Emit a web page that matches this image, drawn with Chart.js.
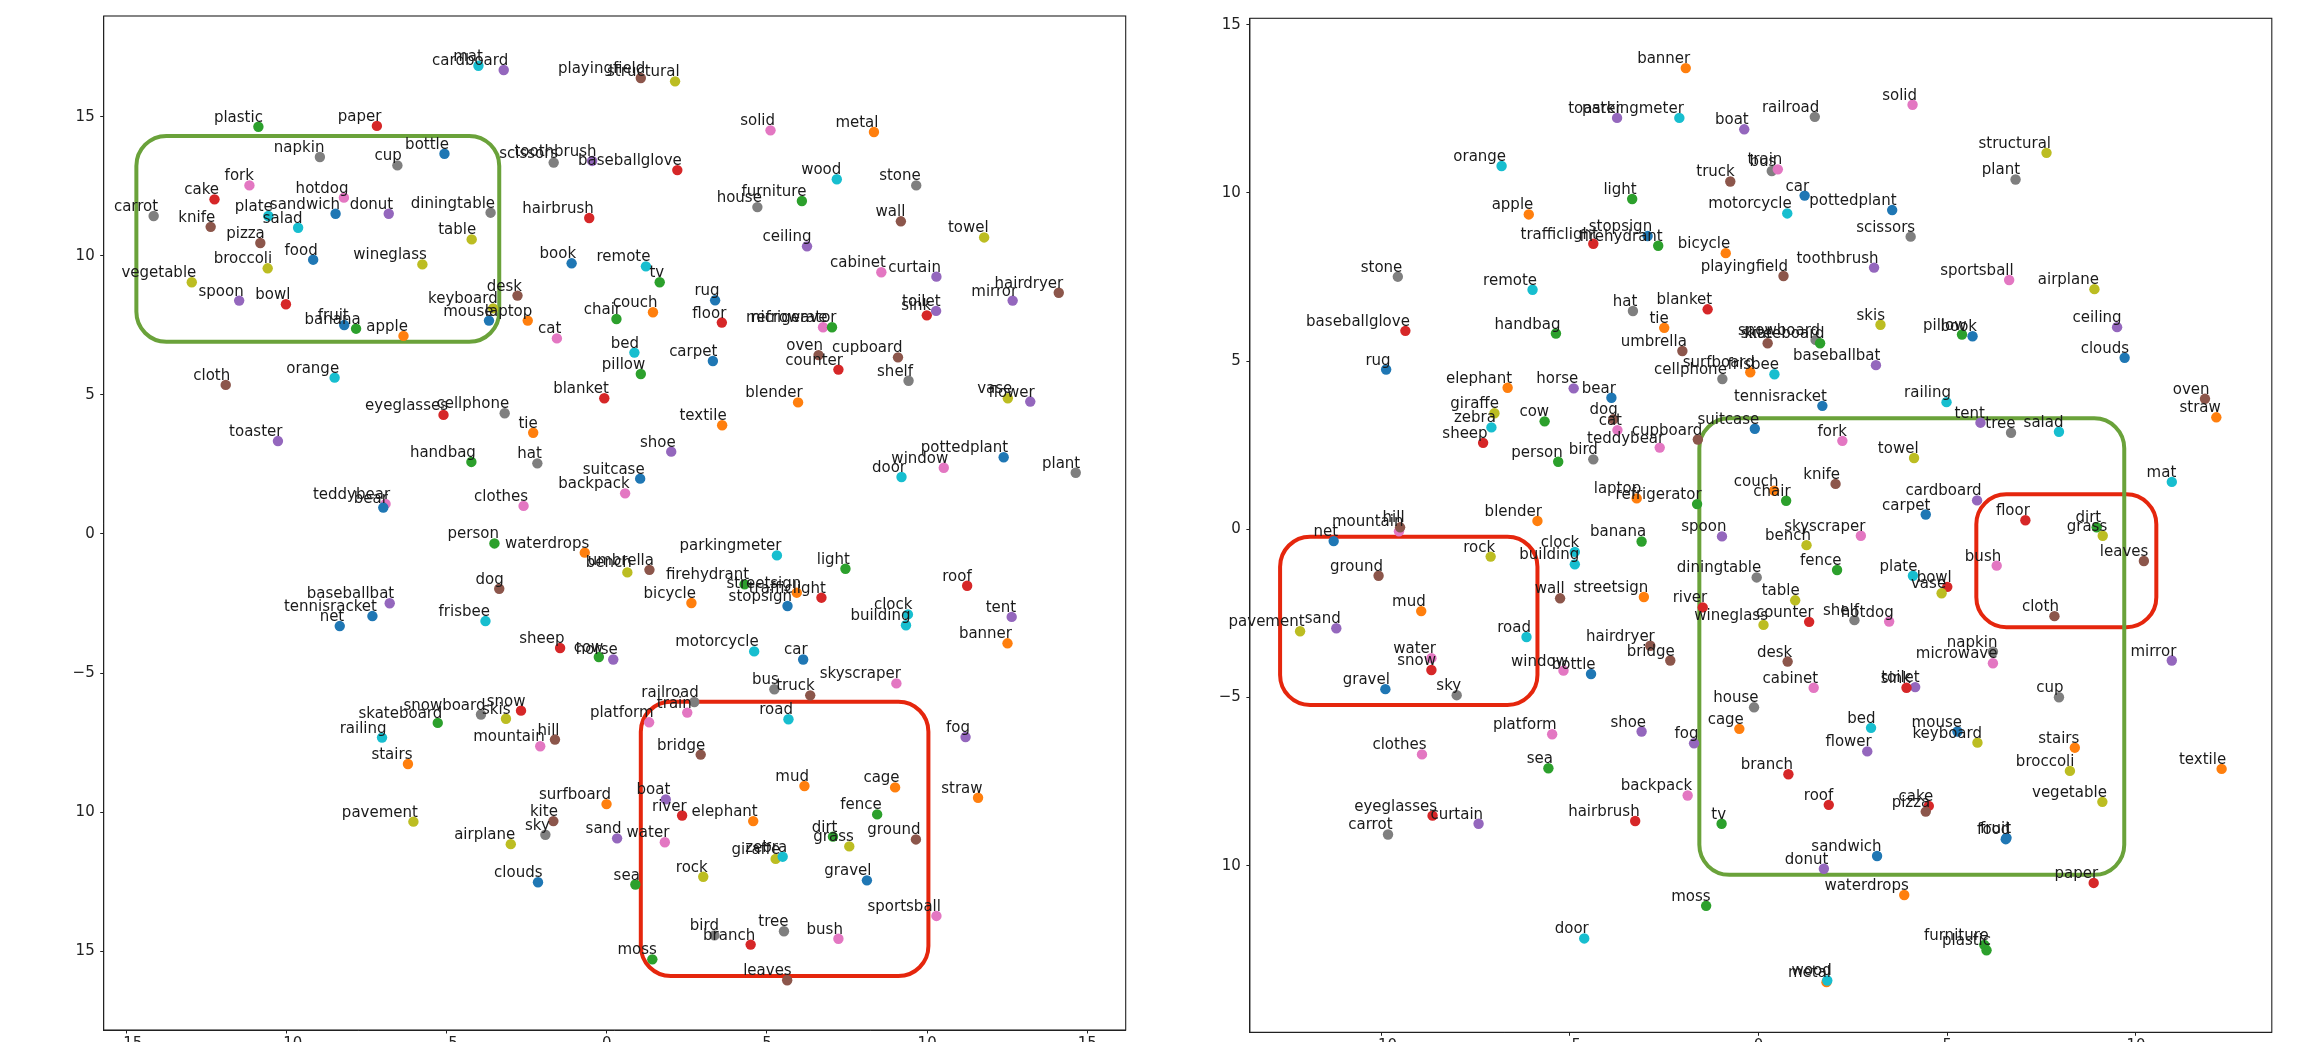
<!DOCTYPE html>
<html>
<head>
<meta charset="utf-8">
<script src="https://cdn.jsdelivr.net/npm/chart.js@4"></script>
<style>
    html, body { margin: 0; padding: 0; background: #fff; overflow: hidden; width: 2312px; height: 1042px; }
    canvas { position: absolute; top: 0; }
    #leftChart { left: 0; }
    #rightChart { left: 1150px; }
</style>
</head>
<body>
<canvas id="leftChart" width="1150" height="1080"></canvas>
<canvas id="rightChart" width="1162" height="1080"></canvas>
<script>
// words shared by both embeddings, same order in every array below
const words = [
    'mat', 'cardboard', 'playingfield', 'structural', 'plastic', 'paper', 'napkin', 'cup', 'bottle', 'scissors',
    'toothbrush', 'baseballglove', 'solid', 'metal', 'wood', 'stone', 'furniture', 'house', 'wall', 'towel',
    'ceiling', 'fork', 'cake', 'hotdog', 'carrot', 'knife', 'plate', 'sandwich', 'salad', 'donut',
    'diningtable', 'hairbrush', 'pizza', 'table', 'food', 'broccoli', 'wineglass', 'book', 'remote', 'tv',
    'cabinet', 'curtain', 'hairdryer', 'mirror', 'vegetable', 'spoon', 'bowl', 'desk', 'keyboard', 'mouse',
    'laptop', 'cat', 'fruit', 'banana', 'apple', 'rug', 'chair', 'couch', 'floor', 'microwave',
    'refrigerator', 'toilet', 'sink', 'bed', 'carpet', 'oven', 'cupboard', 'counter', 'pillow', 'blanket',
    'shelf', 'blender', 'vase', 'flower', 'textile', 'shoe', 'suitcase', 'backpack', 'pottedplant', 'window',
    'door', 'plant', 'cloth', 'orange', 'eyeglasses', 'cellphone', 'tie', 'toaster', 'handbag', 'hat',
    'teddybear', 'bear', 'clothes', 'person', 'waterdrops', 'umbrella', 'bench', 'dog', 'baseballbat', 'tennisracket',
    'net', 'frisbee', 'parkingmeter', 'light', 'firehydrant', 'streetsign', 'trafficlight', 'stopsign', 'bicycle', 'roof',
    'clock', 'building', 'tent', 'banner', 'motorcycle', 'car', 'cow', 'horse', 'sheep', 'skyscraper',
    'bus', 'truck', 'snow', 'snowboard', 'skis', 'skateboard', 'railing', 'mountain', 'hill', 'stairs',
    'pavement', 'kite', 'sky', 'airplane', 'clouds', 'railroad', 'train', 'platform', 'road', 'fog',
    'bridge', 'mud', 'cage', 'straw', 'surfboard', 'boat', 'river', 'elephant', 'fence', 'sand',
    'water', 'dirt', 'grass', 'ground', 'giraffe', 'zebra', 'rock', 'sea', 'gravel', 'sportsball',
    'tree', 'bush', 'bird', 'branch', 'moss', 'leaves'
];

const leftX = [
    -4.01, -3.22, 1.06, 2.13, -10.88, -7.18, -8.96, -6.54, -5.07, -1.66,
    -0.46, 2.20, 5.11, 8.34, 7.18, 9.66, 6.09, 4.70, 9.18, 11.78,
    6.25, -11.16, -12.25, -8.21, -14.15, -12.37, -10.57, -8.47, -9.64, -6.81,
    -3.63, -0.55, -10.82, -4.22, -9.17, -10.59, -5.76, -1.10, 1.22, 1.65,
    8.57, 10.29, 14.11, 12.67, -12.96, -11.48, -10.02, -2.79, -3.55, -3.68,
    -2.47, -1.56, -8.20, -7.83, -6.35, 3.38, 0.30, 1.44, 3.59, 6.75,
    7.03, 10.28, 9.99, 0.86, 3.31, 6.61, 9.09, 7.23, 1.06, -0.08,
    9.42, 5.97, 12.52, 13.22, 3.60, 2.01, 1.04, 0.57, 12.39, 10.52,
    9.20, 14.64, -11.90, -8.50, -5.10, -3.19, -2.30, -10.27, -4.23, -2.17,
    -6.91, -6.98, -2.60, -3.51, -0.69, 1.33, 0.64, -3.36, -6.78, -7.32,
    -8.34, -3.79, 5.31, 7.45, 4.30, 5.93, 6.70, 5.64, 2.64, 11.25,
    9.40, 9.34, 12.64, 12.51, 4.60, 6.13, -0.25, 0.20, -1.46, 9.04,
    5.23, 6.35, -2.68, -3.93, -3.15, -5.28, -7.02, -2.08, -1.62, -6.21,
    -6.04, -1.67, -1.92, -3.00, -2.15, 2.73, 2.51, 1.32, 5.67, 11.20,
    2.93, 6.17, 9.00, 11.59, -0.01, 1.84, 2.35, 4.57, 8.44, 0.32,
    1.81, 7.06, 7.57, 9.65, 5.27, 5.49, 3.01, 0.89, 8.12, 10.29,
    5.53, 7.23, 3.36, 4.49, 1.42, 5.63
];
const leftY = [
    16.83, 16.68, 16.39, 16.27, 14.64, 14.67, 13.55, 13.25, 13.67, 13.35,
    13.41, 13.08, 14.51, 14.45, 12.75, 12.53, 11.97, 11.75, 11.24, 10.66,
    10.34, 12.53, 12.03, 12.09, 11.43, 11.04, 11.43, 11.51, 11.01, 11.51,
    11.55, 11.36, 10.46, 10.59, 9.86, 9.55, 9.69, 9.73, 9.62, 9.05,
    9.41, 9.25, 8.67, 8.39, 9.05, 8.39, 8.26, 8.57, 8.11, 7.67,
    7.67, 7.03, 7.51, 7.38, 7.12, 8.40, 7.73, 7.97, 7.60, 7.43,
    7.43, 8.02, 7.86, 6.52, 6.22, 6.43, 6.35, 5.91, 5.75, 4.88,
    5.51, 4.73, 4.88, 4.76, 3.91, 2.96, 1.99, 1.46, 2.76, 2.38,
    2.05, 2.20, 5.36, 5.62, 4.28, 4.34, 3.64, 3.34, 2.59, 2.54,
    1.08, 0.95, 1.01, -0.34, -0.67, -1.29, -1.38, -1.97, -2.49, -2.95,
    -3.31, -3.13, -0.77, -1.25, -1.81, -2.11, -2.29, -2.59, -2.48, -1.86,
    -2.89, -3.28, -2.98, -3.93, -4.22, -4.51, -4.42, -4.51, -4.10, -5.37,
    -5.58, -5.80, -6.35, -6.49, -6.64, -6.79, -7.32, -7.63, -7.39, -8.27,
    -10.34, -10.32, -10.81, -11.15, -12.52, -6.04, -6.42, -6.77, -6.66, -7.30,
    -7.93, -9.06, -9.11, -9.48, -9.71, -9.54, -10.12, -10.32, -10.08, -10.94,
    -11.08, -10.88, -11.23, -10.98, -11.68, -11.60, -12.32, -12.60, -12.45, -13.73,
    -14.28, -14.55, -14.43, -14.76, -15.29, -16.04
];

const rightX = [
    10.95, 5.79, 0.66, 7.63, 6.04, 8.88, 6.21, 7.96, -4.44, 4.03,
    3.06, -9.36, 4.08, 1.80, 1.82, -9.56, 5.98, -0.12, -5.26, 4.12,
    9.50, 2.22, 4.51, 3.46, -9.82, 2.04, 4.09, 3.14, 7.96, 1.73,
    -0.05, -3.27, 4.43, 0.97, 6.55, 8.25, 0.13, 5.67, -5.99, -0.98,
    1.46, -7.42, -2.87, 10.95, 9.11, -0.97, 5.00, 0.77, 5.80, 5.27,
    -3.23, -3.74, 6.57, -3.10, -6.09, -9.87, 0.73, 0.41, 7.07, 6.21,
    -1.63, 4.15, 3.92, 2.98, 4.43, 11.83, -1.61, 1.34, 5.39, -1.35,
    2.54, -5.86, 4.85, 2.88, 12.27, -3.10, -0.10, -1.88, 3.54, -5.17,
    -4.62, 6.81, 7.84, -6.81, -8.64, -0.96, -2.50, -3.75, -5.37, -3.33,
    -2.62, -3.90, -8.92, -5.31, 3.86, -2.02, 1.27, -3.85, 3.11, 1.69,
    -11.26, 0.42, -2.10, -3.35, -2.66, -3.04, -4.38, -2.94, -0.87, 1.86,
    -4.87, -4.87, 5.88, -1.93, 0.76, 1.22, -5.67, -4.90, -7.30, 2.71,
    0.35, -0.75, -8.67, 1.51, 3.23, 1.63, 4.98, -9.53, -9.50, 8.38,
    -12.15, 0.24, -8.00, 8.90, 9.70, 1.49, 0.51, -5.47, -6.15, -1.71,
    -2.34, -8.94, -0.51, 12.13, -0.22, -0.38, -1.48, -6.65, 2.08, -11.19,
    -8.67, 8.96, 9.12, -10.07, -7.00, -7.08, -7.10, -5.57, -9.89, 6.64,
    6.69, 6.31, -4.38, 0.79, -1.39, 10.21
];
const rightY = [
    1.41, 0.86, 7.53, 11.19, -12.51, -10.51, -3.64, -4.99, -4.30, 8.70,
    7.78, 5.90, 12.62, -13.46, -13.41, 7.51, -12.35, -5.29, -2.05, 2.12,
    6.01, 2.63, -8.22, -2.74, -9.07, 1.35, -1.38, -9.71, 2.90, -10.09,
    -1.43, -8.67, -8.39, -2.11, -9.21, -7.18, -2.84, 5.74, 7.12, -8.75,
    -4.71, -8.75, -3.46, -3.90, -8.10, -0.21, -1.71, -3.93, -6.34, -6.01,
    0.92, 2.95, -9.17, -0.36, 9.36, 4.75, 0.85, 1.15, 0.27, -3.98,
    0.75, -4.69, -4.71, -5.90, 0.44, 3.88, 2.67, -2.75, 5.79, 6.54,
    -2.70, 0.25, -1.90, -6.60, -7.12, -6.01, 2.99, -7.91, 9.49, -4.20,
    -12.16, 10.40, -2.58, 10.80, -8.51, 4.47, 5.99, 12.23, 5.82, 6.49,
    2.43, 3.91, -6.69, 2.01, -10.87, 5.30, -0.47, 3.27, 4.88, 3.67,
    -0.35, 4.61, 12.23, 9.82, 8.43, -2.01, 8.49, 8.72, 8.21, -8.19,
    -0.67, -1.04, 3.17, 13.71, 9.39, 9.92, 3.21, 4.19, 2.57, -0.19,
    10.65, 10.34, -4.18, 5.63, 6.08, 5.53, 3.78, -0.06, 0.06, -6.49,
    -3.03, 5.53, -4.93, 7.14, 5.10, 12.26, 10.70, -6.09, -3.20, -6.36,
    -3.90, -2.43, -5.93, 3.33, 4.67, 11.89, -2.32, 4.21, -1.21, -2.94,
    -3.83, 0.06, -0.19, -1.38, 3.45, 3.03, -0.81, -7.10, -4.75, 7.41,
    2.87, -1.08, 2.08, -7.28, -11.19, -0.94
];

// tick values and the tick text as it shows in the picture
const leftXTicks = [-15, -10, -5, 0, 5, 10, 15];
const leftXTickText = ['−15', '−10', '−5', '0', '5', '10', '15'];
const leftYTicks = [-15, -10, -5, 0, 5, 10, 15];
const leftYTickText = ['15', '10', '−5', '0', '5', '10', '15'];
const rightXTicks = [-10, -5, 0, 5, 10];
const rightXTickText = ['−10', '−5', '0', '5', '10'];
const rightYTicks = [-10, -5, 0, 5, 10, 15];
const rightYTickText = ['10', '−5', '0', '5', '10', '15'];

// highlighted regions, in data units
const leftGreenBox = { x0: -14.69, x1: -3.36, y0: 6.91, y1: 14.31 };
const leftRedBox = { x0: 1.06, x1: 10.04, y0: -15.89, y1: -6.03 };
const rightRedBoxA = { x0: -12.68, x1: -5.86, y0: -5.22, y1: -0.22 };
const rightRedBoxB = { x0: 5.77, x1: 10.54, y0: -2.91, y1: 1.04 };
const rightGreenBox = { x0: -1.57, x1: 9.69, y0: -10.27, y1: 3.30 };

// tab10 colour index per word
const colorIndex = [
    9, 4, 5, 8, 2, 3, 7, 7, 0, 7,
    4, 3, 6, 1, 9, 7, 2, 7, 5, 8,
    4, 6, 3, 6, 7, 5, 9, 0, 9, 4,
    7, 3, 5, 8, 0, 8, 8, 0, 9, 2,
    6, 4, 5, 4, 8, 4, 3, 5, 8, 0,
    1, 6, 0, 2, 1, 0, 2, 1, 3, 6,
    2, 4, 3, 9, 0, 5, 5, 3, 2, 3,
    7, 1, 8, 4, 1, 4, 0, 6, 0, 6,
    9, 7, 5, 9, 3, 7, 1, 4, 2, 7,
    6, 0, 6, 2, 1, 5, 8, 5, 4, 0,
    0, 9, 9, 2, 2, 1, 3, 0, 1, 3,
    9, 9, 4, 1, 9, 0, 2, 4, 3, 6,
    7, 5, 3, 7, 8, 2, 9, 6, 5, 1,
    8, 5, 7, 8, 0, 7, 6, 6, 9, 4,
    5, 1, 1, 1, 1, 4, 3, 1, 2, 4,
    6, 2, 8, 5, 8, 9, 8, 2, 0, 6,
    7, 6, 7, 3, 2, 5
];

const tab10 = ['#1f77b4', '#ff7f0e', '#2ca02c', '#d62728', '#9467bd',
               '#8c564b', '#e377c2', '#7f7f7f', '#bcbd22', '#17becf'];
const GREEN = '#6aa23a';
const RED = '#e5260d';
const FONT = '"DejaVu Sans", sans-serif';

function roundedBox(ctx, x0, y0, x1, y1, r) {
    ctx.beginPath();
    ctx.moveTo(x0 + r, y0);
    ctx.lineTo(x1 - r, y0);
    ctx.arcTo(x1, y0, x1, y0 + r, r);
    ctx.lineTo(x1, y1 - r);
    ctx.arcTo(x1, y1, x1 - r, y1, r);
    ctx.lineTo(x0 + r, y1);
    ctx.arcTo(x0, y1, x0, y1 - r, r);
    ctx.lineTo(x0, y0 + r);
    ctx.arcTo(x0, y0, x0 + r, y0, r);
    ctx.closePath();
}

function makeOverlay(xs, ys, boxes) {
    return {
        id: 'overlay',
        beforeDatasetsDraw(chart) {
            const { ctx, scales: { x, y } } = chart;
            ctx.save();
            ctx.lineWidth = 4;
            boxes.forEach(b => {
                ctx.strokeStyle = b.color;
                roundedBox(ctx, x.getPixelForValue(b.box.x0), y.getPixelForValue(b.box.y1),
                    x.getPixelForValue(b.box.x1), y.getPixelForValue(b.box.y0), 30);
                ctx.stroke();
            });
            ctx.restore();
        },
        afterDatasetsDraw(chart) {
            const { ctx, scales: { x, y } } = chart;
            ctx.save();
            ctx.font = '15px ' + FONT;
            ctx.fillStyle = '#1a1a1a';
            ctx.textAlign = 'right';
            ctx.textBaseline = 'alphabetic';
            words.forEach((w, i) => {
                ctx.fillText(w, x.getPixelForValue(xs[i]) + 4.5, y.getPixelForValue(ys[i]) - 5);
            });
            // frame on all four sides
            const a = chart.chartArea;
            ctx.strokeStyle = '#222';
            ctx.lineWidth = 1.1;
            ctx.strokeRect(a.left, a.top, a.right - a.left, a.bottom - a.top);
            ctx.restore();
        }
    };
}

function axis(pos, min, max, ticks, tickText, size) {
    return {
        type: 'linear',
        position: pos,
        min: min,
        max: max,
        afterBuildTicks: (s) => { s.ticks = ticks.map(v => ({ value: v })); },
        afterFit: (s) => { if (pos === 'left') s.width = size; else s.height = size; },
        ticks: {
            autoSkip: false,
            maxRotation: 0,
            padding: pos === 'left' ? 5.5 : 1.5,
            color: '#222',
            font: { family: FONT, size: 15 },
            callback: (v, i) => tickText[i]
        },
        grid: { drawOnChartArea: false, drawTicks: true, tickLength: 3.5, color: '#222', lineWidth: 1 },
        border: { display: true, color: '#222', width: 1 }
    };
}

function buildChart(id, xs, ys, boxes, sc, pad) {
    const ctx = document.getElementById(id).getContext('2d');
    return new Chart(ctx, {
        type: 'scatter',
        data: {
            datasets: [{
                data: words.map((w, i) => ({ x: xs[i], y: ys[i] })),
                backgroundColor: colorIndex.map(c => tab10[c]),
                pointRadius: 5.2,
                pointBorderWidth: 0,
                borderWidth: 0
            }]
        },
        options: {
            responsive: false,
            animation: false,
            events: [],
            devicePixelRatio: 1,
            layout: { padding: pad },
            plugins: { legend: { display: false }, tooltip: { enabled: false } },
            scales: {
                x: axis('bottom', sc.xmin, sc.xmax, sc.xt, sc.xtt, sc.xh),
                y: axis('left', sc.ymin, sc.ymax, sc.yt, sc.ytt, sc.yw)
            }
        },
        plugins: [makeOverlay(xs, ys, boxes)]
    });
}

document.addEventListener('DOMContentLoaded', () => {
    buildChart('leftChart', leftX, leftY,
        [{ box: leftGreenBox, color: GREEN }, { box: leftRedBox, color: RED }],
        { xmin: -15.71, xmax: 16.2, ymin: -17.83, ymax: 18.62,
          xt: leftXTicks, xtt: leftXTickText, yt: leftYTicks, ytt: leftYTickText, xh: 50, yw: 103.7 },
        { top: 16, right: 24.3, left: 0, bottom: 0 });

    buildChart('rightChart', rightX, rightY,
        [{ box: rightRedBoxA, color: RED }, { box: rightRedBoxB, color: RED }, { box: rightGreenBox, color: GREEN }],
        { xmin: -13.48, xmax: 13.6, ymin: -14.95, ymax: 15.19,
          xt: rightXTicks, xtt: rightXTickText, yt: rightYTicks, ytt: rightYTickText, xh: 47.7, yw: 99.9 },
        { top: 18.3, right: 40.2, left: 0, bottom: 0 });
});
</script>
</body>
</html>
